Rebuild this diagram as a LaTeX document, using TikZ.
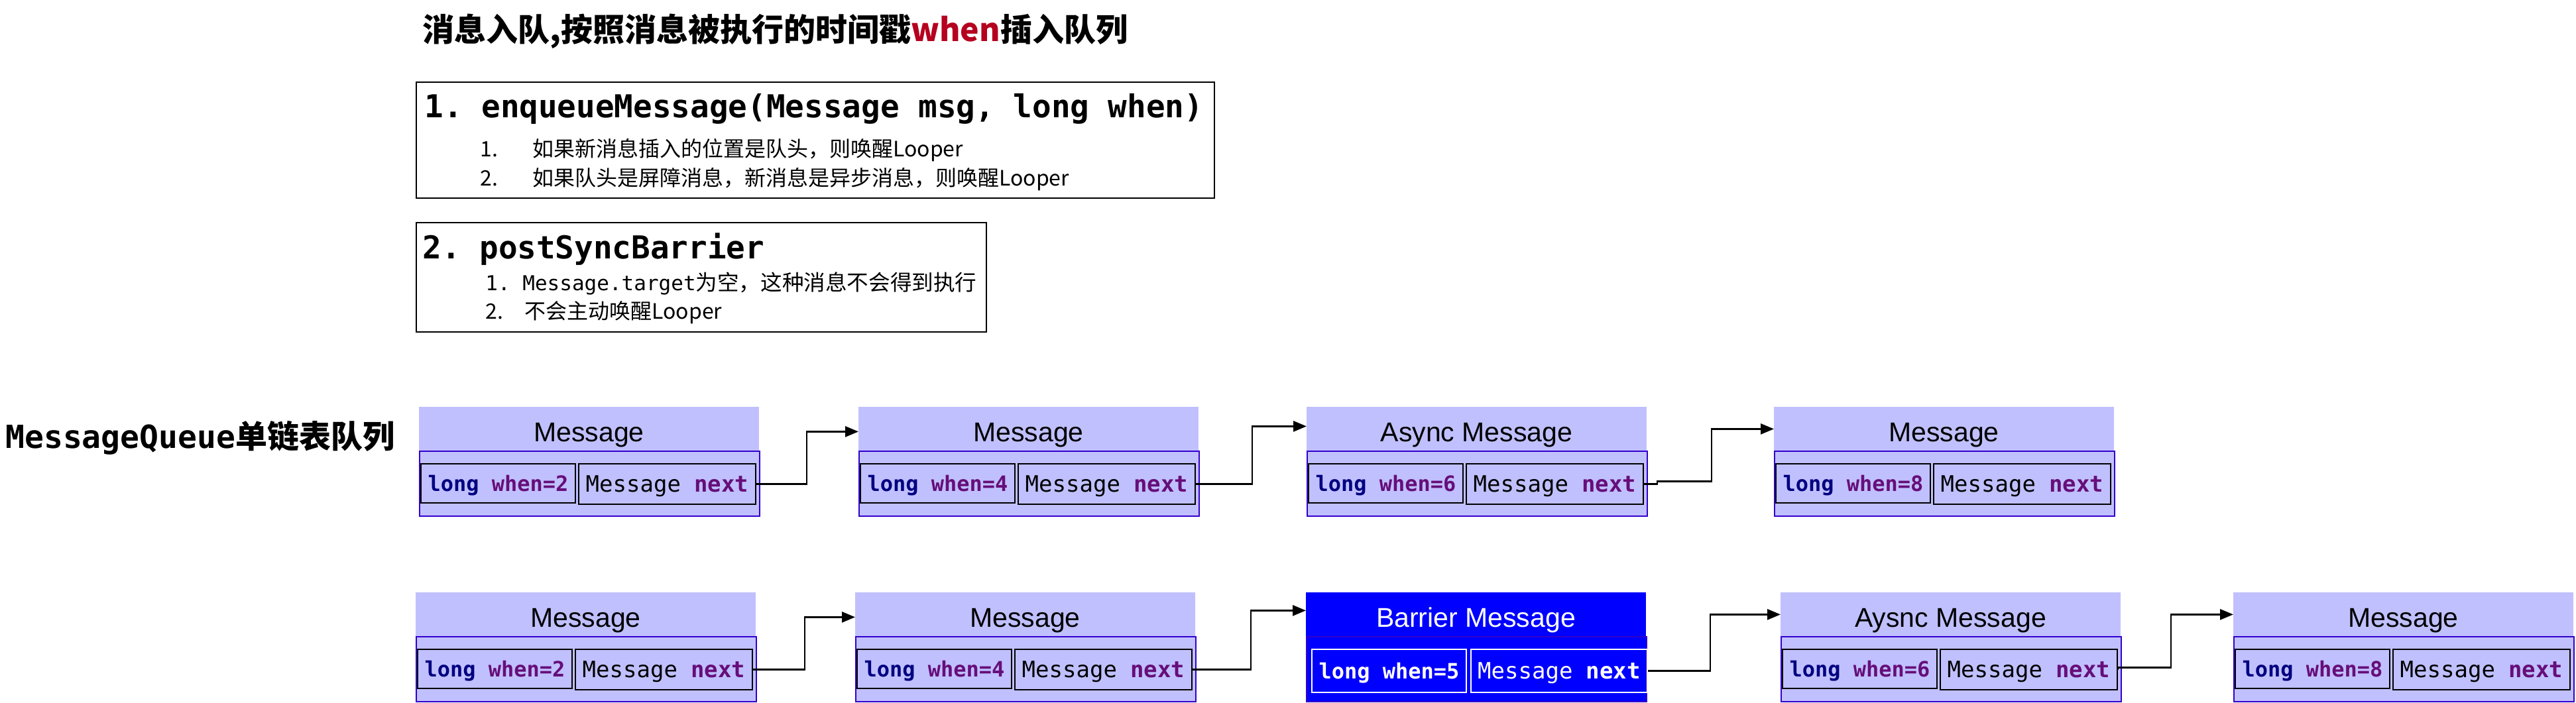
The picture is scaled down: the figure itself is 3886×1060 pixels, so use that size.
\documentclass[tikz,border=0pt]{standalone}
\usepackage{fontspec}
\setmonofont{DejaVu Sans Mono}
\newfontfamily\cjk{Noto Sans CJK SC}
\newfontfamily\hsans{Liberation Sans}
\usetikzlibrary{arrows.meta}
\definecolor{lav}{RGB}{192,192,255}
\definecolor{bodyb}{RGB}{51,0,204}
\definecolor{kwnavy}{RGB}{0,0,128}
\definecolor{kwpurple}{RGB}{102,14,122}
\definecolor{titlered}{RGB}{181,0,31}
\definecolor{barrierblue}{RGB}{0,0,255}
\newcommand{\fsz}[1]{\fontsize{#1}{#1}\selectfont}
\newcommand{\whenfmt}[1]{\textbf{\color{kwnavy}long} \textbf{\color{kwpurple}when=#1}}
\newcommand{\nextfmt}{Message \textbf{\color{kwpurple}next}}
% #1 name, #2 left, #3 top, #4 header text, #5 when value
\newcommand{\qmsg}[5]{%
  \node[hdr, anchor=north west] (#1h) at (#2,#3) {};
  \node[htext, anchor=base] (#1t) at (#2+256.5,#3+52) {#4};
  \node[bodybox, anchor=north west] (#1b) at (#2,#3+66) {};
  \node[whenbox, anchor=north west] (#1w) at (#2+2,#3+85) {\whenfmt{#5}};
  \node[nextbox, anchor=north west] (#1n) at (#2+240,#3+85) {\nextfmt};
}
\begin{document}
\begin{tikzpicture}[x=0.5pt,y=-0.5pt,
  hdr/.style={rectangle, fill=lav, draw=none, minimum width=256.5pt, minimum height=33pt, inner sep=0pt},
  bodybox/.style={rectangle, fill=lav, draw=bodyb, line width=0.8pt, minimum width=256.5pt, minimum height=49pt, inner sep=0pt},
  whenbox/.style={rectangle, draw=black, line width=1pt, minimum width=116.5pt, minimum height=29.5pt, inner sep=0pt, text depth=0pt, font=\ttfamily\fsz{16pt}},
  nextbox/.style={rectangle, draw=black, line width=1pt, minimum width=133.5pt, minimum height=30.5pt, inner sep=0pt, text depth=0pt, font=\ttfamily\fsz{17pt}},
  htext/.style={font=\hsans\fsz{20.5pt}, inner sep=0pt},
  link/.style={line width=1.3pt, -{Triangle[length=10pt,width=8pt]}},
  infobox/.style={rectangle, draw=black, line width=1pt, inner sep=0pt},
  headtxt/.style={font=\ttfamily\bfseries\fsz{23.8pt}, inner sep=0pt},
  linetxt/.style={font=\cjk\fsz{16pt}, inner sep=0pt}
]
\useasboundingbox (0,0) rectangle (3886,1060);

% title
\node[anchor=base west, inner sep=0pt, font=\cjk\bfseries\fsz{24pt}] (title) at (637,62)
  {消息入队,按照消息被执行的时间戳{\color{titlered}when}插入队列};

% box 1
\node[infobox, anchor=north west, minimum width=602pt, minimum height=87.5pt] (box1) at (627,123) {};
\node[headtxt, anchor=base west] (head1) at (640,177) {1. enqueueMessage(Message msg, long when)};
\node[linetxt, anchor=base west] (b1n1) at (724,236) {1.};
\node[linetxt, anchor=base west] (b1t1) at (803,236) {如果新消息插入的位置是队头，则唤醒Looper};
\node[linetxt, anchor=base west] (b1n2) at (724,280) {2.};
\node[linetxt, anchor=base west] (b1t2) at (803,280) {如果队头是屏障消息，新消息是异步消息，则唤醒Looper};

% box 2
\node[infobox, anchor=north west, minimum width=430pt, minimum height=82.5pt] (box2) at (627,335) {};
\node[headtxt, anchor=base west] (head2) at (637,390) {2. postSyncBarrier};
\node[anchor=base west, inner sep=0pt] (b2t1) at (732,438) {{\ttfamily\fsz{15.5pt}1. Message.target}{\cjk\fsz{16.3pt}为空，这种消息不会得到执行}};
\node[linetxt, anchor=base west] (b2n2) at (732,481) {2.};
\node[linetxt, anchor=base west] (b2t2) at (791,481) {不会主动唤醒Looper};

% queue label
\node[anchor=base west, inner sep=0pt] (qlabel) at (8,676) {{\ttfamily\bfseries\fsz{24pt}MessageQueue}{\cjk\bfseries\fsz{24pt}单链表队列}};

% row 1
\qmsg{a}{632}{614}{Message}{2}
\qmsg{b}{1295}{614}{Message}{4}
\qmsg{c}{1971}{614}{Async Message}{6}
\qmsg{d}{2676}{614}{Message}{8}

% row 2
\qmsg{e}{627}{894}{Message}{2}
\qmsg{f}{1290}{894}{Message}{4}
% barrier message
\node[hdr, fill=barrierblue, anchor=north west] (gh) at (1970,894) {};
\node[htext, anchor=base, text=white] (gt) at (1970+256.5,894+52) {Barrier Message};
\node[bodybox, fill=barrierblue, anchor=north west] (gb) at (1970,894+66) {};
\node[whenbox, draw=white, text=white, anchor=north west, minimum height=32.5pt] (gw) at (1978,894+85) {\textbf{long when=5}};
\node[nextbox, draw=white, text=white, anchor=north west, minimum width=133pt, minimum height=32.5pt] (gn) at (2218,894+85) {Message \textbf{next}};
\qmsg{h}{2686}{894}{Aysnc Message}{6}
\qmsg{i}{3369}{894}{Message}{8}

% connectors row 1
\draw[link] (an.east) -- ++(76,0) |- ([yshift=-2pt]bh.west);
\draw[link] (bn.east) -- ++(85,0) |- ([yshift=2pt]ch.west);
\draw[link] (cn.east) -- ++(20,0) -- ++(0,-4) -- ++(82,0) |- (dh.west);
% connectors row 2
\draw[link] (en.east) -- ++(78,0) |- ([yshift=-2pt]fh.west);
\draw[link] (fn.east) -- ++(88,0) |- ([yshift=3pt]gh.west);
\draw[link] (gn.east) -- ++(94,0) |- (hh.west);
\draw[link] (hn.east) -- ++(0,-3) -- ++(80,0) |- (ih.west);
\end{tikzpicture}
\end{document}
